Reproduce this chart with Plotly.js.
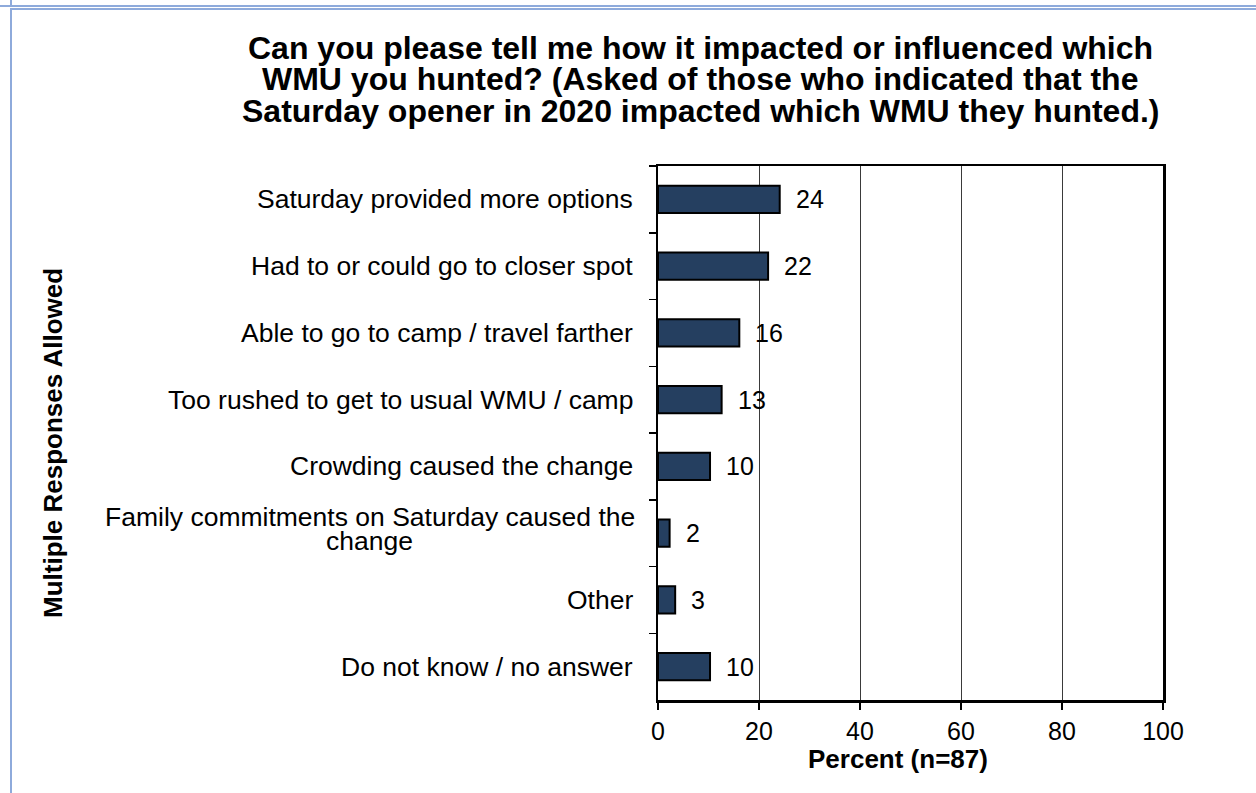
<!DOCTYPE html>
<html>
<head>
<meta charset="utf-8">
<script src="https://cdn.plot.ly/plotly-3.0.1.min.js"></script>
<style>
  html, body { margin: 0; padding: 0; background: #ffffff; }
  #wrap { position: relative; width: 1256px; height: 793px; overflow: hidden; background: #fff; }
  #chart { position: absolute; left: 0; top: 0; width: 1256px; height: 793px; }
  .frame { position: absolute; background: #8eaadb; }
</style>
</head>
<body>
<div id="wrap">
  <div id="chart"></div>
  <div class="frame" style="left:0; top:5px; width:1256px; height:1.5px;"></div>
  <div class="frame" style="left:10px; top:0; width:1.5px; height:5px;"></div>
  <div class="frame" style="left:10px; top:8px; width:1256px; height:1.5px;"></div>
  <div class="frame" style="left:10px; top:8px; width:1.5px; height:785px;"></div>
</div>
<script>
// ---- Data ----
const titleLines = [
  "Can you please tell me how it impacted or influenced which",
  "WMU you hunted? (Asked of those who indicated that the",
  "Saturday opener in 2020 impacted which WMU they hunted.)"
];
const categories = [
  "Saturday provided more options",
  "Had to or could go to closer spot",
  "Able to go to camp / travel farther",
  "Too rushed to get to usual WMU / camp",
  "Crowding caused the change",
  "Family commitments on Saturday caused the<br>change",
  "Other",
  "Do not know / no answer"
];
const percentValues = [24.1, 21.8, 16.1, 12.6, 10.3, 2.3, 3.4, 10.3];
const valueLabels = ["24", "22", "16", "13", "10", "2", "3", "10"];
const xTickValues = [0, 20, 40, 60, 80, 100];
const xAxisTitle = "Percent (n=87)";
const yAxisTitle = "Multiple Responses Allowed";

// ---- Styles ----
const FONT = "Liberation Sans, Arial, Helvetica, sans-serif";
const catFontSize = 26.5;
const numFontSize = 25;
const barColor = "#253f60";

// measure text width for centred multi-line category labels
const cnv = document.createElement("canvas");
const ctx = cnv.getContext("2d");
ctx.font = catFontSize + 'px "Liberation Sans", Arial, sans-serif';

const annotations = [];

// Title lines
const titleShifts = [118, 87, 55];
titleLines.forEach((t, i) => {
  annotations.push({
    text: "<b>" + t + "</b>", xref: "paper", yref: "paper", x: 0, y: 1,
    xanchor: "center", yanchor: "middle", xshift: 42, yshift: titleShifts[i],
    showarrow: false, font: {family: FONT, size: 32, color: "#000"}
  });
});

// Category labels (centred lines, right edge ~24px left of the axis)
categories.forEach((c, i) => {
  const lines = c.split("<br>");
  if (lines.length === 1) {
    annotations.push({
      text: c, xref: "paper", yref: "y", x: 0, y: c,
      xanchor: "right", yanchor: "middle", xshift: -23,
      showarrow: false, font: {family: FONT, size: catFontSize, color: "#000"}
    });
  } else {
    const maxW = Math.max(...lines.map(l => ctx.measureText(l).width));
    const spacing = 24;
    const offs0 = (lines.length - 1) * spacing / 2 + 4;
    lines.forEach((l, j) => {
      annotations.push({
        text: l, xref: "paper", yref: "y", x: 0, y: c,
        xanchor: "center", yanchor: "middle", xshift: -23 - maxW / 2,
        yshift: offs0 - j * spacing,
        showarrow: false, font: {family: FONT, size: catFontSize, color: "#000"}
      });
    });
  }
});

// Value labels
percentValues.forEach((v, i) => {
  annotations.push({
    text: valueLabels[i], xref: "x", yref: "y", x: v, y: categories[i],
    xanchor: "left", yanchor: "middle", xshift: 14,
    showarrow: false, font: {family: FONT, size: numFontSize, color: "#000"}
  });
});

// Axis titles
annotations.push({
  text: "<b>" + xAxisTitle + "</b>", xref: "paper", yref: "paper", x: 0, y: 0,
  xanchor: "center", yanchor: "middle", xshift: 240, yshift: -59,
  showarrow: false, font: {family: FONT, size: 26, color: "#000"}
});
annotations.push({
  text: "<b>" + yAxisTitle + "</b>", xref: "paper", yref: "paper", x: 0, y: 0.5,
  xanchor: "center", yanchor: "middle", xshift: -605, yshift: -10, textangle: -90,
  showarrow: false, font: {family: FONT, size: 26, color: "#000"}
});

const trace = {
  type: "bar",
  orientation: "h",
  x: percentValues,
  y: categories,
  width: 0.41,
  marker: {color: barColor, line: {color: "#000", width: 2}},
  hoverinfo: "none"
};

const layout = {
  width: 1256, height: 793,
  margin: {l: 658, r: 93, t: 166, b: 93, pad: 0},
  paper_bgcolor: "rgba(0,0,0,0)",
  plot_bgcolor: "#ffffff",
  showlegend: false,
  font: {family: FONT, color: "#000"},
  xaxis: {
    range: [0, 100], tickmode: "array", tickvals: xTickValues,
    ticktext: xTickValues.map(String),
    showgrid: true, gridcolor: "#3a3a3a", gridwidth: 1,
    zeroline: false, showline: true, linecolor: "#000", linewidth: 2.5, mirror: true,
    ticks: "outside", ticklen: 7, tickwidth: 1.5, tickcolor: "#000",
    tickfont: {family: FONT, size: numFontSize, color: "#000"},
    fixedrange: true
  },
  yaxis: {
    type: "category", categoryorder: "array", categoryarray: categories,
    autorange: "reversed",
    showticklabels: false, showgrid: false, zeroline: false,
    showline: true, linecolor: "#000", linewidth: 2.5, mirror: true,
    ticks: "outside", tickson: "boundaries", ticklen: 7, tickwidth: 1.5, tickcolor: "#000",
    fixedrange: true
  },
  annotations: annotations
};

Plotly.newPlot("chart", [trace], layout, {staticPlot: true, displayModeBar: false});
</script>
</body>
</html>
